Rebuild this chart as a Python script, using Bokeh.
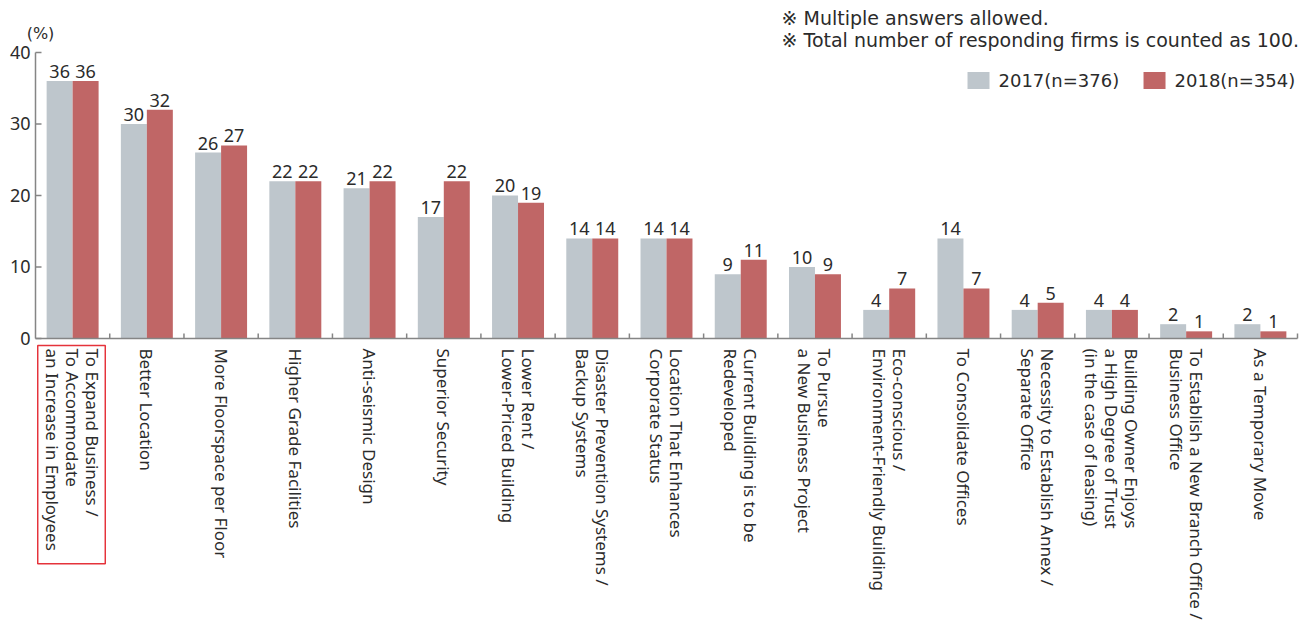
import math
from bokeh.plotting import figure
from bokeh.models import Range1d, ColumnDataSource
from bokeh.core.properties import value
from bokeh.embed import file_html
from bokeh.resources import INLINE

categories = [
    "To Expand Business /\nTo Accommodate\nan Increase in Employees",
    "Better Location",
    "More Floorspace per Floor",
    "Higher Grade Facilities",
    "Anti-seismic Design",
    "Superior Security",
    "Lower Rent /\nLower-Priced Building",
    "Disaster Prevention Systems /\nBackup Systems",
    "Location That Enhances\nCorporate Status",
    "Current Building is to be\nRedeveloped",
    "To Pursue\na New Business Project",
    "Eco-conscious /\nEnvironment-Friendly Building",
    "To Consolidate Offices",
    "Necessity to Establish Annex /\nSeparate Office",
    "Building Owner Enjoys\na High Degree of Trust\n(in the case of leasing)",
    "To Establish a New Branch Office /\nBusiness Office",
    "As a Temporary Move",
]
values_2017 = [36, 30, 26, 22, 21, 17, 20, 14, 14, 9, 10, 4, 14, 4, 4, 2, 2]
values_2018 = [36, 32, 27, 22, 22, 22, 19, 14, 14, 11, 9, 7, 7, 5, 4, 1, 1]
series_names = ["2017(n=376)", "2018(n=354)"]
y_ticks = [0, 10, 20, 30, 40]
y_tick_labels = ["0", "10", "20", "30", "40"]
notes = ["※ Multiple answers allowed.", "※ Total number of responding firms is counted as 100."]
y_unit = "(%)"

FONT = "Noto Sans, Noto Sans CJK JP"
WIDE_FONT = "DejaVu Sans, Noto Sans CJK JP"
GRAY = "#bec6cc"
RED = "#c06666"
TXT = "#2b2b2b"
AXIS = "#858585"

n = len(categories)
centers = [i + 0.5 for i in range(n)]
bw = 0.35
PX = 74.235  # screen pixels per category (for style offsets)

p = figure(width=1301, height=620, x_range=Range1d(-35 / PX, n + 4 / PX),
           y_range=Range1d(-39.44, 47.27),
           output_backend="svg", toolbar_location=None,
           x_axis_location=None, y_axis_location=None,
           min_border_left=0, min_border_right=0, min_border_top=0, min_border_bottom=0)
p.outline_line_color = None
p.grid.visible = False

# bars
src = ColumnDataSource(dict(
    x17=[c - bw / 2 for c in centers], x18=[c + bw / 2 for c in centers],
    v17=values_2017, v18=values_2018,
    t17=[str(v) for v in values_2017], t18=[str(v) for v in values_2018],
))
p.vbar(x="x17", top="v17", bottom=0, width=bw, fill_color=GRAY, line_color=None, source=src)
p.vbar(x="x18", top="v18", bottom=0, width=bw, fill_color=RED, line_color=None, source=src)
for xk, vk, tk in (("x17", "v17", "t17"), ("x18", "v18", "t18")):
    p.text(x=xk, y=vk, text=tk, source=src, text_align="center", text_baseline="bottom",
           y_offset=-3, text_font=value(FONT), text_font_size="18px", text_color=TXT)

# y axis (line, inward ticks, labels)
p.segment(x0=[0], x1=[0], y0=[y_ticks[0]], y1=[y_ticks[-1]], line_color=AXIS, line_width=1.5)
p.segment(x0=[0] * len(y_ticks), x1=[6 / PX] * len(y_ticks), y0=y_ticks, y1=y_ticks,
          line_color=AXIS, line_width=1.5)
p.text(x=[0] * len(y_ticks), y=y_ticks, text=y_tick_labels, x_offset=-5, text_align="right",
       text_baseline="middle", text_font=value(FONT), text_font_size="18px", text_color=TXT)
p.text(x=[5 / PX], y=[42.66], text=[y_unit], text_align="center", text_baseline="middle",
       text_font=value(WIDE_FONT), text_font_size="16px", text_color=TXT)

# x axis line and ticks
p.segment(x0=[0], x1=[n], y0=[0], y1=[0], line_color=AXIS, line_width=1.5)
p.segment(x0=list(range(1, n + 1)), x1=list(range(1, n + 1)), y0=[0] * n, y1=[0.7] * n,
          line_color=AXIS, line_width=1.5)

# category labels
p.text(x=centers, y=[-1.4] * n, text=categories, angle=-math.pi / 2,
       text_align="left", text_baseline="middle", text_font=value(FONT),
       text_font_size="17px", text_color=TXT, text_line_height=0.87)

# highlight box around first label
p.quad(left=[0.03], right=[0.94], top=[-0.98], bottom=[-31.5], fill_alpha=0,
       line_color="#e5333b", line_width=1.5)

# notes
p.text(x=[10.05, 10.05], y=[44.76, 41.68], text=notes, text_align="left", text_baseline="middle",
       text_font=value(WIDE_FONT), text_font_size="19px", text_color=TXT)

# legend
lx = [12.703, 15.074]
ly = [36.08, 36.08]
p.rect(x=lx, y=ly, width=22, height=17, width_units="screen", height_units="screen",
       fill_color=[GRAY, RED], line_color=None)
p.text(x=lx, y=ly, text=series_names, x_offset=20, text_align="left", text_baseline="middle",
       text_font=value(WIDE_FONT), text_font_size="18px", text_color=TXT)

open("out.html", "w").write(file_html(p, INLINE))
